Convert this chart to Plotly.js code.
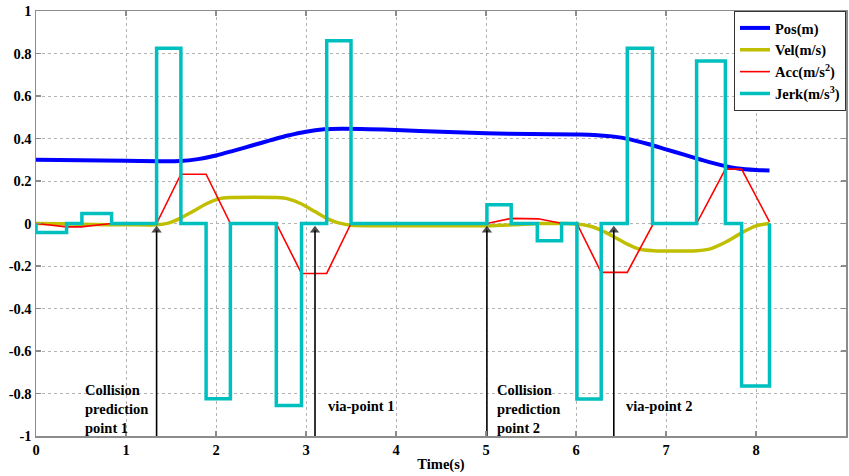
<!DOCTYPE html>
<html>
<head>
<meta charset="utf-8">
<script src="https://cdn.plot.ly/plotly-3.0.1.min.js"></script>
<style>html,body{margin:0;padding:0;background:#fff;}#chart{width:849px;height:476px;}</style>
</head>
<body>
<div id="chart"></div>
<script>
// ---- data ----
const posT = [0, 0.5, 1.0, 1.35, 1.6, 1.8, 2.0, 2.2, 2.4, 2.6, 2.8, 3.0, 3.2, 3.4, 3.7, 4.0, 4.5, 5.0, 5.5, 6.0, 6.2, 6.4, 6.6, 6.8, 7.0, 7.2, 7.4, 7.6, 7.8, 8.0, 8.15];
const posV = [0.300, 0.298, 0.295, 0.293, 0.294, 0.303, 0.320, 0.343, 0.367, 0.391, 0.414, 0.432, 0.443, 0.446, 0.444, 0.440, 0.432, 0.425, 0.421, 0.419, 0.417, 0.410, 0.396, 0.374, 0.349, 0.324, 0.299, 0.276, 0.259, 0.252, 0.250];

const velT = [0, 0.3, 0.5, 0.8, 1.0, 1.34, 1.47, 1.6, 1.75, 1.9, 2.03, 2.16, 2.68, 2.8, 2.94, 3.1, 3.23, 3.35, 3.5, 4.0, 4.5, 5.0, 5.3, 5.6, 5.85, 6.01, 6.15, 6.27, 6.42, 6.57, 6.7, 6.86, 7.34, 7.5, 7.67, 7.84, 8.0, 8.15];
const velV = [0, -0.001, -0.004, -0.006, -0.006, -0.006, 0.002, 0.024, 0.059, 0.094, 0.116, 0.122, 0.122, 0.116, 0.094, 0.056, 0.024, 0.004, -0.008, -0.010, -0.010, -0.010, -0.006, 0.0, 0.0, -0.002, -0.012, -0.030, -0.062, -0.097, -0.120, -0.128, -0.128, -0.118, -0.086, -0.044, -0.011, 0.0];

const accT = [0, 0.34, 0.5, 0.84, 1.34, 1.61, 1.89, 2.16, 2.67, 2.95, 3.23, 3.5, 5.01, 5.28, 5.58, 5.85, 6.01, 6.28, 6.57, 6.86, 7.34, 7.66, 7.84, 8.15];
const accV = [0, -0.016, -0.016, 0, 0, 0.232, 0.232, 0, 0, -0.235, -0.235, 0, 0, 0.024, 0.022, 0, 0, -0.23, -0.23, 0, 0, 0.256, 0.256, 0.008];

const jerkT = [0, 0, 0.34, 0.51, 0.84, 1.34, 1.61, 1.89, 2.16, 2.67, 2.95, 3.23, 3.5, 5.01, 5.28, 5.57, 5.84, 6.01, 6.28, 6.57, 6.85, 7.34, 7.66, 7.84, 8.15];
const jerkV = [0, -0.042, 0, 0.047, 0, 0.825, 0, -0.825, 0, -0.857, 0, 0.86, 0, 0.088, 0, -0.081, 0, -0.826, 0, 0.825, 0, 0.765, 0, -0.765, 0];

const seriesNames = ['Pos(m)', 'Vel(m/s)', 'Acc(m/s<sup>2</sup>)', 'Jerk(m/s<sup>3</sup>)'];

// event arrows (x position, arrow base and tip values)
const markerX = [1.34, 3.1, 5.01, 6.42];
const arrowBase = -1;
const arrowTip = -0.032;
const markerLabels = ['Collision<br>prediction<br>point 1', 'via-point 1', 'Collision<br>prediction<br>point 2', 'via-point 2'];
const labelX = [0.52, 3.22, 5.1, 6.53];
const labelY = [-0.875, -0.86, -0.875, -0.86];

const yTickVals = [-1, -0.8, -0.6, -0.4, -0.2, 0, 0.2, 0.4, 0.6, 0.8, 1];
const yTickText = ['-1', '-0.8', '-0.6', '-0.4', '-0.2', '0', '0.2', '0.4', '0.6', '0.8', '1'];
const xTickVals = [0, 1, 2, 3, 4, 5, 6, 7, 8, 9];

// ---- chart ----
const FONT = 'Liberation Serif, Times New Roman, serif';
const traces = [
  {x: posT, y: posV, name: seriesNames[0], mode: 'lines', line: {color: '#0000ff', width: 4, shape: 'spline', smoothing: 0.8}},
  {x: velT, y: velV, name: seriesNames[1], mode: 'lines', line: {color: '#bfbf00', width: 3.5, shape: 'spline', smoothing: 0.8}},
  {x: accT, y: accV, name: seriesNames[2], mode: 'lines', line: {color: '#ff0000', width: 1.6}},
  {x: jerkT, y: jerkV, name: seriesNames[3], mode: 'lines', line: {color: '#00bfbf', width: 3.5, shape: 'hv'}}
];
markerX.forEach((mx) => {
  traces.push({x: [mx, mx], y: [arrowBase, arrowTip], mode: 'lines+markers', showlegend: false, hoverinfo: 'skip',
    line: {color: '#000', width: 1.6},
    marker: {symbol: 'triangle-up', size: [0, 9], color: '#000', line: {width: 0}}});
});

const annotations = [];
markerLabels.forEach((t, i) => {
  annotations.push({x: labelX[i], y: labelY[i], xref: 'x', yref: 'y', text: t, showarrow: false,
    xanchor: 'left', yanchor: 'middle', align: 'left',
    font: {family: FONT, size: 14.5, color: '#000', weight: 'bold'}});
});

const axisCommon = {
  showgrid: true, gridcolor: '#b4b4b4', griddash: 'dot', gridwidth: 1,
  showline: true, linecolor: '#8c8c8c', linewidth: 1.5, mirror: 'ticks',
  ticks: 'inside', ticklen: 5, tickcolor: '#8c8c8c', tickwidth: 1.5,
  zeroline: false,
  tickfont: {family: FONT, size: 14.5, color: '#000', weight: 'bold'}
};

const layout = {
  width: 849, height: 476,
  margin: {l: 36, r: 3, t: 11, b: 40},
  paper_bgcolor: '#fff', plot_bgcolor: '#fff',
  showlegend: true,
  legend: {x: 1, xanchor: 'right', y: 1, yanchor: 'top', bgcolor: '#fff', bordercolor: '#333', borderwidth: 1,
    font: {family: FONT, size: 14.5, color: '#000', weight: 'bold'}, tracegroupgap: 0, itemwidth: 30},
  xaxis: Object.assign({}, axisCommon, {range: [0, 9], tickvals: xTickVals,
    title: {text: 'Time(s)', standoff: 2, font: {family: FONT, size: 14.5, color: '#000', weight: 'bold'}}}),
  yaxis: Object.assign({}, axisCommon, {range: [-1, 1], tickvals: yTickVals, ticktext: yTickText}),
  annotations: annotations
};

Plotly.newPlot('chart', traces, layout, {displayModeBar: false, staticPlot: true});
</script>
</body>
</html>
